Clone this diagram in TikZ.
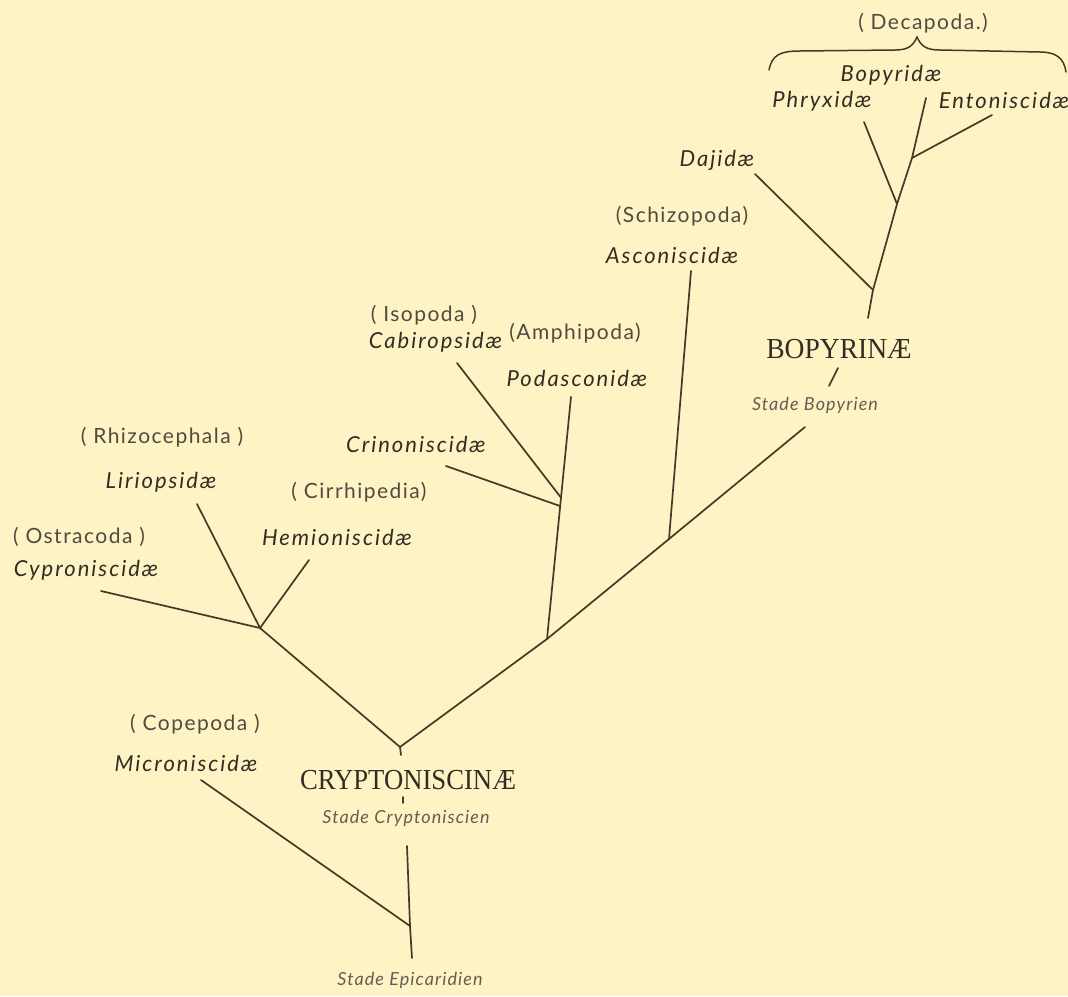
\documentclass[tikz,border=0pt]{standalone}
\usepackage{fontspec}
\usepackage{graphicx}
\newfontfamily\labfont[LetterSpace=9]{Lato}
\newfontfamily\grpfont[LetterSpace=7]{Lato}
\newfontfamily\stadefont[LetterSpace=6]{Lato}
\newfontfamily\capsfont{Liberation Serif}
\definecolor{bg}{RGB}{253,243,197}
\definecolor{ink}{RGB}{68,58,38}
\definecolor{txt}{RGB}{50,45,34}
\definecolor{grpc}{RGB}{80,75,62}
\definecolor{stadec}{RGB}{100,95,82}
\tikzset{
  fam/.style={font=\labfont\itshape\fontsize{22}{26}\selectfont, text=txt, inner sep=0pt},
  grp/.style={font=\grpfont\fontsize{21}{25}\selectfont, text=grpc, inner sep=0pt},
  sub/.style={font=\capsfont\fontsize{29}{32}\selectfont, text=txt, inner sep=0pt},
  stadelbl/.style={font=\stadefont\itshape\fontsize{18}{21}\selectfont, text=stadec, inner sep=0pt},
  branch/.style={draw=ink, line width=1.7pt, line cap=round}
}
\begin{document}
\begin{tikzpicture}[x=1pt,y=-1pt]
\fill[bg] (0,0) rectangle (1068,996);
\useasboundingbox (0,0) rectangle (1068,996);

% labels
\node[grp] (decapoda) at (923,23) {( Decapoda.)};
\node[fam] (bopyridae) at (891,75) {Bopyridæ};
\node[fam] (phryxidae) at (822,101) {Phryxidæ};
\node[fam] (entoniscidae) at (1004,100) {Entoniscidæ};
\node[fam] (dajidae) at (717,160) {Dajidæ};
\node[grp] (schizopoda) at (682,216) {(Schizopoda)};
\node[fam] (asconiscidae) at (672,255) {Asconiscidæ};
\node[grp] (isopoda) at (424,315) {( Isopoda )};
\node[fam] (cabiropsidae) at (435.5,342) {Cabiropsidæ};
\node[grp] (amphipoda) at (575,333) {(Amphipoda)};
\node[fam] (podasconidae) at (577,378) {Podasconidæ};
\node[fam] (crinoniscidae) at (416,444) {Crinoniscidæ};
\node[grp] (rhizocephala) at (162,437) {( Rhizocephala )};
\node[fam] (liriopsidae) at (161,482) {Liriopsidæ};
\node[grp] (cirrhipedia) at (359,492) {( Cirrhipedia)};
\node[fam] (hemioniscidae) at (337,537) {Hemioniscidæ};
\node[grp] (ostracoda) at (79,537) {( Ostracoda )};
\node[fam] (cyproniscidae) at (86,570) {Cyproniscidæ};
\node[grp] (copepoda) at (195,724) {( Copepoda )};
\node[fam] (microniscidae) at (186,763) {Microniscidæ};
\node[sub] (cryptoniscinae) at (408,780) {\scalebox{0.92}[1]{CRYPTONISCINÆ}};
\node[stadelbl] (stadecrypt) at (406,818) {Stade Cryptoniscien};
\node[stadelbl] (stadeepi) at (410,980) {Stade Epicaridien};
\node[sub] (bopyrinae) at (839,349) {\scalebox{0.95}[1]{BOPYRINÆ}};
\node[stadelbl] (stadebopy) at (815,405) {Stade Bopyrien};

% junctions and branch ends
\coordinate (eBase) at (412,958);
\coordinate (jE) at (410,926);
\coordinate (eTop) at (407,846);
\coordinate (mEnd) at (201,780);
\coordinate (cTickA) at (403,797);
\coordinate (cTickB) at (403,803);
\coordinate (jC) at (400,747);
\coordinate (jCtick) at (401,755);
\coordinate (jL) at (260,628);
\coordinate (cyEnd) at (101,591);
\coordinate (liEnd) at (197,504);
\coordinate (heEnd) at (309,560);
\coordinate (jP) at (547,639);
\coordinate (jCab) at (560.5,497);
\coordinate (jCri) at (560,506);
\coordinate (poEnd) at (571,397);
\coordinate (caEnd) at (457,363);
\coordinate (crEnd) at (446,466);
\coordinate (jA) at (669,539);
\coordinate (asEnd) at (691,271);
\coordinate (tEnd) at (805,427);
\coordinate (bTickA) at (838,368);
\coordinate (bTickB) at (829,386);
\coordinate (uBase) at (868,318);
\coordinate (jD) at (873,290);
\coordinate (jPh) at (897,204);
\coordinate (jEn) at (912,158);
\coordinate (bpEnd) at (926,98);
\coordinate (daEnd) at (755,174);
\coordinate (phEnd) at (864,122);
\coordinate (enEnd) at (992,115);

% lower part
\draw[branch] (eBase) -- (jE) -- (eTop);
\draw[branch] (mEnd) -- (jE);
\draw[branch] (cTickA) -- (cTickB);
\draw[branch] (jCtick) -- (jC);
\draw[branch] (jL) -- (jC) -- (jP) -- (jA) -- (tEnd);
\draw[branch] (cyEnd) -- (jL) -- (liEnd);
\draw[branch] (jL) -- (heEnd);
\draw[branch] (jP) -- (poEnd);
\draw[branch] (caEnd) -- (jCab);
\draw[branch] (crEnd) -- (jCri);
\draw[branch] (jA) -- (asEnd);
% upper part
\draw[branch] (bTickA) -- (bTickB);
\draw[branch] (uBase) -- (jD) -- (jPh) -- (jEn) -- (bpEnd);
\draw[branch] (daEnd) -- (jD);
\draw[branch] (phEnd) -- (jPh);
\draw[branch] (enEnd) -- (jEn);

% brace over Decapoda
\coordinate (brL) at (769,70);
\coordinate (brR) at (1066,72);
\coordinate (brPeak) at (917,37);
\draw[draw=ink, line width=1.5pt, line cap=round]
  (brL) .. controls (772,55) and (780,51) .. (800,51)
  -- (895,50) .. controls (908,50) and (913,46) .. (brPeak)
  .. controls (921,46) and (926,50) .. (940,50)
  -- (1040,52) .. controls (1056,52) and (1064,58) .. (brR);
\end{tikzpicture}
\end{document}
